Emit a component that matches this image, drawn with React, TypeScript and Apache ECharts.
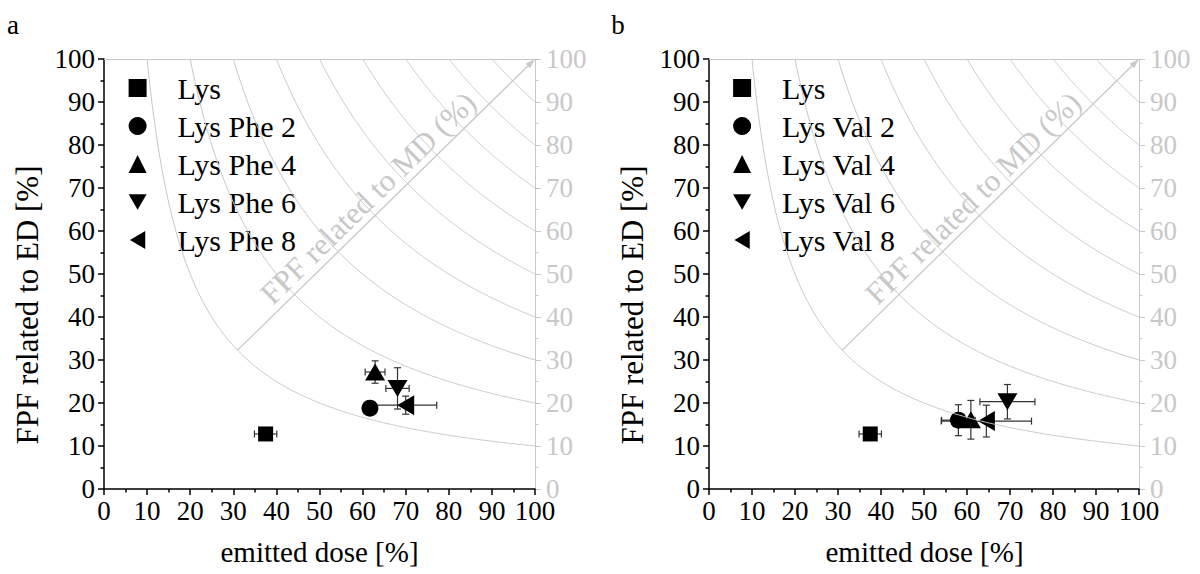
import React, { useEffect, useRef } from 'react';
import * as echarts from 'echarts';

const FONT = 'Liberation Serif';
const GRAY = '#c8c8c8';
const ERR = '#333333';

// axis ticks (both axes, both panels)
const tickValues = [0, 10, 20, 30, 40, 50, 60, 70, 80, 90, 100];
// iso-lines of FPF related to MD (%)
const mdLevels = [10, 20, 30, 40, 50, 60, 70, 80, 90];
const arrowStart = [31, 32.3];
const arrowEnd = [100, 100];

// Panel a
const namesA = ['Lys', 'Lys Phe 2', 'Lys Phe 4', 'Lys Phe 6', 'Lys Phe 8'];
const edA = [37.5, 61.7, 62.9, 68.1, 70.0];
const fpfA = [12.8, 18.8, 27.2, 23.4, 19.5];
const edErrA = [2.6, 0, 2.3, 2.7, 7.2];
const fpfErrA = [0.5, 0, 2.6, 4.8, 2.1];

// Panel b
const namesB = ['Lys', 'Lys Val 2', 'Lys Val 4', 'Lys Val 6', 'Lys Val 8'];
const edB = [37.5, 58.0, 60.9, 69.4, 64.5];
const fpfB = [12.8, 16.0, 16.1, 20.3, 15.8];
const edErrB = [2.6, 3.9, 0, 6.4, 10.5];
const fpfErrB = [0.5, 3.6, 4.5, 4.0, 3.7];

const symbols = [
  'rect',
  'circle',
  'triangle',
  'path://M0,0L20,0L10,17Z',
  'path://M17,0L17,20L0,10Z',
];
const symbolSizes: any[] = [15, 17, [20, 17], [20, 17], [17, 20]];

const grids = [
  { left: 104, top: 59, width: 431, height: 430 },
  { left: 709, top: 59, width: 430, height: 430 },
];

function buildAxes(gi: number) {
  const min = tickValues[0];
  const max = tickValues[tickValues.length - 1];
  const interval = tickValues[1] - tickValues[0];
  const blackLine = { show: true, onZero: false, lineStyle: { color: '#000', width: 1.5 } };
  const grayLine = { show: true, onZero: false, lineStyle: { color: GRAY, width: 1 } };
  const labelBlack = { fontFamily: FONT, fontSize: 27, lineHeight: 22, color: '#000' };
  const x = [
    {
      type: 'value', gridIndex: gi, position: 'bottom', min, max, interval,
      axisLine: blackLine,
      axisTick: { show: true, length: 6, lineStyle: { color: '#000', width: 1.5 } },
      minorTick: { show: true, splitNumber: 2, length: 3.5, lineStyle: { color: '#000', width: 1.5 } },
      axisLabel: { ...labelBlack, margin: 11 },
      splitLine: { show: false },
    },
    {
      type: 'value', gridIndex: gi, position: 'top', min, max, interval,
      axisLine: grayLine,
      axisTick: { show: false },
      axisLabel: { show: false },
      splitLine: { show: false },
    },
  ];
  const y = [
    {
      type: 'value', gridIndex: gi, position: 'left', min, max, interval,
      axisLine: blackLine,
      axisTick: { show: true, length: 6, lineStyle: { color: '#000', width: 1.5 } },
      minorTick: { show: true, splitNumber: 2, length: 3.5, lineStyle: { color: '#000', width: 1.5 } },
      axisLabel: { ...labelBlack, margin: 9 },
      splitLine: { show: false },
    },
    {
      type: 'value', gridIndex: gi, position: 'right', min, max, interval,
      axisLine: grayLine,
      axisTick: { show: true, length: 6, lineStyle: { color: GRAY, width: 1 } },
      minorTick: { show: true, splitNumber: 2, length: 3.5, lineStyle: { color: GRAY, width: 1 } },
      axisLabel: { fontFamily: FONT, fontSize: 27, lineHeight: 22, color: GRAY, margin: 11 },
      splitLine: { show: false },
    },
  ];
  return { x, y };
}

function panelSeries(
  xi: number,
  yi: number,
  names: string[],
  ed: number[],
  fpf: number[],
  edErr: number[],
  fpfErr: number[]
) {
  const series: any[] = [];
  // iso-curves
  series.push({
    type: 'custom',
    xAxisIndex: xi,
    yAxisIndex: yi,
    silent: true,
    z: 6,
    data: mdLevels.map((c) => [c, c]),
    encode: { x: 0, y: 1 },
    renderItem: (params: any, api: any) => {
      const c = api.value(0);
      const pts: number[][] = [];
      const n = 300;
      for (let i = 0; i <= n; i++) {
        const xv = c + ((100 - c) * i) / n;
        pts.push(api.coord([xv, (100 * c) / xv]));
      }
      return {
        type: 'polyline',
        shape: { points: pts },
        style: { stroke: GRAY, fill: 'none', lineWidth: 1 },
      };
    },
  });
  // arrow
  series.push({
    type: 'custom',
    xAxisIndex: xi,
    yAxisIndex: yi,
    silent: true,
    z: 6,
    data: [[arrowStart[0], arrowStart[1], arrowEnd[0], arrowEnd[1]]],
    encode: { x: [0, 2], y: [1, 3] },
    renderItem: (params: any, api: any) => {
      const p0 = api.coord([api.value(0), api.value(1)]);
      const p1 = api.coord([api.value(2), api.value(3)]);
      const dx = p1[0] - p0[0];
      const dy = p1[1] - p0[1];
      const len = Math.sqrt(dx * dx + dy * dy);
      const ux = dx / len;
      const uy = dy / len;
      const hl = 10;
      const hw = 3.2;
      const bx = p1[0] - ux * hl;
      const by = p1[1] - uy * hl;
      return {
        type: 'group',
        children: [
          {
            type: 'line',
            shape: { x1: p0[0], y1: p0[1], x2: bx, y2: by },
            style: { stroke: GRAY, lineWidth: 1.3 },
          },
          {
            type: 'polygon',
            shape: {
              points: [
                [p1[0], p1[1]],
                [bx - uy * hw, by + ux * hw],
                [bx + uy * hw, by - ux * hw],
              ],
            },
            style: { fill: GRAY },
          },
        ],
      };
    },
  });
  // error bars
  series.push({
    type: 'custom',
    xAxisIndex: xi,
    yAxisIndex: yi,
    silent: true,
    z: 2,
    data: ed.map((v, i) => [v, fpf[i], edErr[i], fpfErr[i]]),
    encode: { x: 0, y: 1 },
    renderItem: (params: any, api: any) => {
      const x = api.value(0);
      const y = api.value(1);
      const ex = api.value(2);
      const ey = api.value(3);
      const cap = 3.5;
      const style = { stroke: ERR, lineWidth: 1.2 };
      const children: any[] = [];
      if (ex > 0) {
        const l = api.coord([x - ex, y]);
        const r = api.coord([x + ex, y]);
        children.push({ type: 'line', shape: { x1: l[0], y1: l[1], x2: r[0], y2: r[1] }, style });
        children.push({ type: 'line', shape: { x1: l[0], y1: l[1] - cap, x2: l[0], y2: l[1] + cap }, style });
        children.push({ type: 'line', shape: { x1: r[0], y1: r[1] - cap, x2: r[0], y2: r[1] + cap }, style });
      }
      if (ey > 0) {
        const t = api.coord([x, y + ey]);
        const b = api.coord([x, y - ey]);
        children.push({ type: 'line', shape: { x1: t[0], y1: t[1], x2: b[0], y2: b[1] }, style });
        children.push({ type: 'line', shape: { x1: t[0] - cap, y1: t[1], x2: t[0] + cap, y2: t[1] }, style });
        children.push({ type: 'line', shape: { x1: b[0] - cap, y1: b[1], x2: b[0] + cap, y2: b[1] }, style });
      }
      return { type: 'group', children };
    },
  });
  // markers
  names.forEach((name, i) => {
    series.push({
      type: 'scatter',
      name,
      xAxisIndex: xi,
      yAxisIndex: yi,
      z: 4,
      symbol: symbols[i],
      symbolSize: symbolSizes[i],
      itemStyle: { color: '#000', opacity: 1 },
      data: [[ed[i], fpf[i]]],
    });
  });
  return series;
}

function panelGraphics(offsetX: number, letter: string) {
  const mdAngle = (44.4 * Math.PI) / 180;
  const common = { fontFamily: FONT, align: 'center', verticalAlign: 'middle' };
  return [
    {
      type: 'text',
      x: 13 + offsetX,
      y: 25,
      style: { ...common, text: letter, fontSize: 27, fill: '#000' },
    },
    {
      type: 'text',
      x: 319.5 + offsetX,
      y: 552,
      style: { ...common, text: 'emitted dose [%]', fontSize: 29, fill: '#000' },
    },
    {
      type: 'text',
      x: 27 + offsetX,
      y: 305,
      rotation: Math.PI / 2,
      style: { ...common, text: 'FPF related to ED [%]', fontSize: 31, fill: '#000' },
    },
    {
      type: 'text',
      x: 368 + offsetX,
      y: 198,
      rotation: mdAngle,
      z: 10,
      style: { ...common, text: 'FPF related to MD (%)', fontSize: 31, fill: GRAY },
    },
  ];
}

export default function App() {
  const ref = useRef<HTMLDivElement>(null);
  useEffect(() => {
    if (!ref.current) return;
    const chart = echarts.init(ref.current, undefined, { renderer: 'svg' });
    const a = buildAxes(0);
    const b = buildAxes(1);
    const legendCommon = {
      orient: 'vertical',
      top: 73,
      padding: 0,
      itemWidth: 18,
      itemHeight: 18,
      itemGap: 8,
      selectedMode: false,
      symbolKeepAspect: true,
      textStyle: { fontFamily: FONT, fontSize: 30, color: '#000', padding: [0, 0, 0, 26] },
    };
    chart.setOption({
      animation: false,
      grid: grids.map((g) => ({ ...g, containLabel: false })),
      xAxis: [...a.x, ...b.x],
      yAxis: [...a.y, ...b.y],
      legend: [
        { ...legendCommon, left: 128.6, data: namesA },
        { ...legendCommon, left: 733.1, data: namesB },
      ],
      graphic: [...panelGraphics(0, 'a'), ...panelGraphics(605, 'b')],
      series: [
        ...panelSeries(0, 0, namesA, edA, fpfA, edErrA, fpfErrA),
        ...panelSeries(2, 2, namesB, edB, fpfB, edErrB, fpfErrB),
      ],
    });
    return () => chart.dispose();
  }, []);
  return (
    <div
      ref={ref}
      style={{ position: 'absolute', left: 0, top: 0, width: 1200, height: 574 }}
    />
  );
}
